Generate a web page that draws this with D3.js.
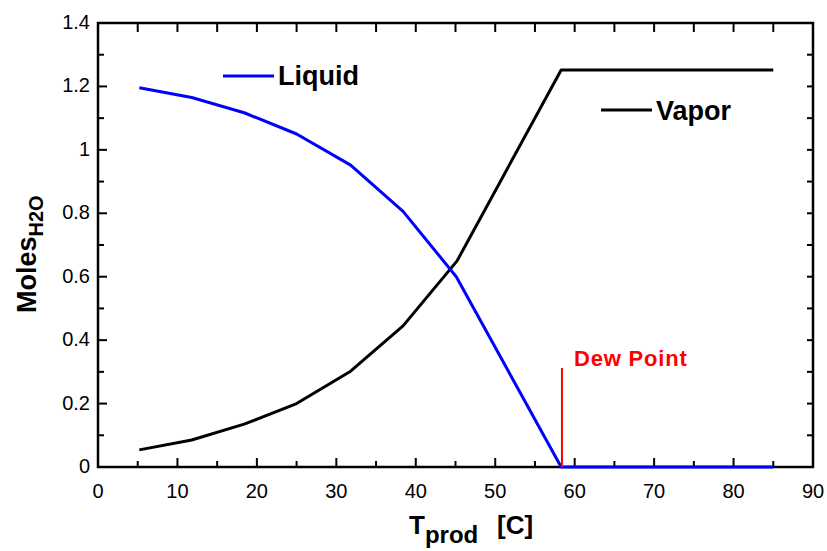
<!DOCTYPE html>
<html>
<head>
<meta charset="utf-8">
<script src="https://cdn.jsdelivr.net/npm/d3@7"></script>
<style>
  html, body { margin: 0; padding: 0; background: #fff; }
  svg { display: block; font-family: "Liberation Sans", Arial, sans-serif; }
</style>
</head>
<body>
<svg id="chart" width="827" height="551"></svg>
<script>
// ---- data ----
const tempLiquid = [5.2, 11.8, 18.4, 25.0, 31.8, 38.4, 45.1, 58.3, 85.0];
const molesLiquid = [1.196, 1.165, 1.117, 1.050, 0.952, 0.806, 0.600, 0.0, 0.0];
const tempVapor = [5.2, 11.8, 18.4, 25.0, 31.8, 38.4, 45.2, 58.3, 85.0];
const molesVapor = [0.054, 0.085, 0.135, 0.200, 0.302, 0.445, 0.650, 1.252, 1.252];
const dewPointT = 58.4;
const dewPointTop = 0.312;
const xTicks = [0, 10, 20, 30, 40, 50, 60, 70, 80, 90];
const yTicks = [0, 0.2, 0.4, 0.6, 0.8, 1, 1.2, 1.4];
const seriesNames = ["Liquid", "Vapor"];
const seriesColors = ["#0000ff", "#000000"];

// ---- layout ----
const svg = d3.select("#chart");
const L = 98, R = 813, T = 23, B = 467;
const x = d3.scaleLinear().domain([0, 90]).range([L, R]);
const y = d3.scaleLinear().domain([0, 1.4]).range([B, T]);

const minorX = d3.range(0, 90.01, 5);
const minorY = d3.range(0, 1.401, 0.1).map(v => +v.toFixed(2));

// tick marks (inward)
const tickG = svg.append("g").attr("stroke", "#000").attr("stroke-width", 2);
minorX.forEach(v => {
  const major = Math.abs(v % 10) < 1e-6;
  tickG.append("line").attr("x1", x(v)).attr("x2", x(v))
    .attr("y1", B).attr("y2", B - (major ? 9 : 6));
  tickG.append("line").attr("x1", x(v)).attr("x2", x(v))
    .attr("y1", T).attr("y2", T + 9);
});
minorY.forEach(v => {
  const major = Math.abs((v * 10) % 2) < 1e-6;
  tickG.append("line").attr("x1", L).attr("x2", L + (major ? 9 : 6))
    .attr("y1", y(v)).attr("y2", y(v));
  tickG.append("line").attr("x1", R).attr("x2", R - 6)
    .attr("y1", y(v)).attr("y2", y(v));
});

// tick labels
svg.append("g").selectAll("text").data(xTicks).join("text")
  .attr("x", d => x(d)).attr("y", 498)
  .attr("text-anchor", "middle").attr("font-size", 20).attr("fill", "#000")
  .text(d => d);
svg.append("g").selectAll("text").data(yTicks).join("text")
  .attr("x", 90).attr("y", d => y(d)).attr("dy", "0.3em")
  .attr("text-anchor", "end").attr("font-size", 20).attr("fill", "#000")
  .text(d => d3.format("")(d));

// lines
const line = d3.line().x(d => x(d[0])).y(d => y(d[1]));
const liquidPts = tempLiquid.map((t, i) => [t, molesLiquid[i]]);
const vaporPts = tempVapor.map((t, i) => [t, molesVapor[i]]);

// frame
svg.append("rect").attr("x", L).attr("y", T).attr("width", R - L).attr("height", B - T)
  .attr("fill", "none").attr("stroke", "#000").attr("stroke-width", 2.5);

svg.append("path").datum(vaporPts).attr("d", line)
  .attr("fill", "none").attr("stroke", seriesColors[1]).attr("stroke-width", 3)
  .attr("stroke-linejoin", "round");
svg.append("path").datum(liquidPts).attr("d", line)
  .attr("fill", "none").attr("stroke", seriesColors[0]).attr("stroke-width", 3)
  .attr("stroke-linejoin", "round");

// dew point marker
svg.append("line").attr("x1", x(dewPointT)).attr("x2", x(dewPointT))
  .attr("y1", y(0)).attr("y2", y(dewPointTop))
  .attr("stroke", "#ff0000").attr("stroke-width", 2);
svg.append("text").attr("x", 574).attr("y", 366)
  .attr("font-size", 22).attr("font-weight", "bold").attr("fill", "#ff0000")
  .attr("letter-spacing", 0.8)
  .text("Dew Point");

// legend
const legendPos = [{x1: 223, x2: 274, y: 76, tx: 278, ty: 85},
                   {x1: 601, x2: 652, y: 110, tx: 656, ty: 120}];
seriesNames.forEach((name, i) => {
  const p = legendPos[i];
  svg.append("line").attr("x1", p.x1).attr("x2", p.x2).attr("y1", p.y).attr("y2", p.y)
    .attr("stroke", seriesColors[i]).attr("stroke-width", 3);
  svg.append("text").attr("x", p.tx).attr("y", p.ty)
    .attr("font-size", 27).attr("font-weight", "bold").attr("fill", "#000")
    .text(name);
});

// axis titles
const xt = svg.append("text").attr("x", 409).attr("y", 534)
  .attr("font-weight", "bold").attr("fill", "#000");
xt.append("tspan").attr("font-size", 26).text("T");
xt.append("tspan").attr("font-size", 24).attr("dy", 9).text("prod");
xt.append("tspan").attr("font-size", 26).attr("dy", -9).attr("x", 497).text("[C]");

const yt = svg.append("text")
  .attr("transform", "translate(36,313) rotate(-90)")
  .attr("font-weight", "bold").attr("fill", "#000");
yt.append("tspan").attr("font-size", 27).text("Moles");
yt.append("tspan").attr("font-size", 20).attr("dy", 7).text("H2O");
</script>
</body>
</html>
